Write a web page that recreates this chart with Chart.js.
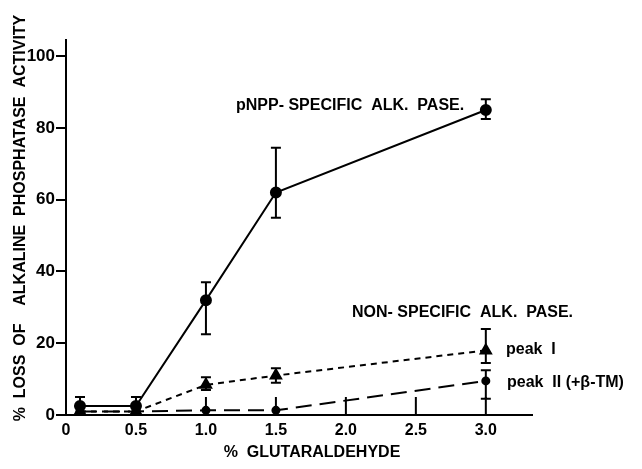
<!DOCTYPE html>
<html lang="en">
<head>
  <meta charset="UTF-8">
  <title>Loss of alkaline phosphatase activity</title>
  <style>
    body { margin: 0; background: #fff; }
    #wrap { width: 642px; height: 469px; position: relative; }
  </style>
  <script src="https://cdn.jsdelivr.net/npm/chart.js"></script>
</head>
<body>
  <div id="wrap"><canvas id="chart"></canvas></div>
  <script>
    // % glutaraldehyde
    const glutaraldehyde = [0.1, 0.5, 1.0, 1.5, 3.0];

    // pNPP-specific alk. pase
    const pnpp = [2.5, 2.5, 32, 62, 85];
    const pnppLow = [2.5, 2.5, 22.5, 55, 82.5];
    const pnppHigh = [5, 5, 37, 74.5, 88];

    // non-specific, peak I
    const peak1 = [1, 1, 8.4, 11, 18];
    const peak1Low = [1, 1, 7, 9, 14.5];
    const peak1High = [1, 1, 10.5, 13, 24];

    // non-specific, peak II (+β-TM)
    const peak2 = [1, 1, 1.3, 1.3, 9.5];
    const peak2Low = [1, 1, 1.3, 1.3, 4.5];
    const peak2High = [1, 1, 1.3, 1.3, 12.5];

    const xTickValues = [0, 0.5, 1.0, 1.5, 2.0, 2.5, 3.0];
    const xTickLabels = ['0', '0.5', '1.0', '1.5', '2.0', '2.5', '3.0'];
    const yTickValues = [0, 20, 40, 60, 80, 100];

    const font = 'Liberation Sans, Arial, sans-serif';

    function pts(ys) {
      return glutaraldehyde.map((x, i) => ({ x: x, y: ys[i] }));
    }

    // error bars, from the arrays above
    const errorBars = {
      id: 'errorBars',
      afterDatasetsDraw(chart) {
        const ctx = chart.ctx;
        const xs = chart.scales.x, ys = chart.scales.y;
        ctx.save();
        ctx.strokeStyle = '#000';
        ctx.lineWidth = 2;
        chart.data.datasets.forEach(ds => {
          if (!ds.errLow) return;
          glutaraldehyde.forEach((x, i) => {
            const px = xs.getPixelForValue(x);
            const lo = ys.getPixelForValue(ds.errLow[i]);
            const hi = ys.getPixelForValue(ds.errHigh[i]);
            if (Math.abs(lo - hi) < 2) return;
            ctx.beginPath();
            ctx.moveTo(px, lo); ctx.lineTo(px, hi);
            ctx.moveTo(px - 5, lo); ctx.lineTo(px + 5, lo);
            ctx.moveTo(px - 5, hi); ctx.lineTo(px + 5, hi);
            ctx.stroke();
          });
        });
        ctx.restore();
      }
    };

    // x ticks point into the plot, plus the lettering
    const extras = {
      id: 'extras',
      afterDraw(chart) {
        const ctx = chart.ctx;
        const xs = chart.scales.x, ys = chart.scales.y;
        const y0 = ys.getPixelForValue(0);
        ctx.save();
        ctx.strokeStyle = '#000';
        ctx.lineWidth = 2;
        xTickValues.slice(1).forEach(v => {
          const px = xs.getPixelForValue(v);
          ctx.beginPath();
          ctx.moveTo(px, y0);
          ctx.lineTo(px, y0 - 18);
          ctx.stroke();
        });

        ctx.fillStyle = '#000';
        ctx.textBaseline = 'middle';
        ctx.font = 'bold 16px ' + font;
        ctx.textAlign = 'left';
        ctx.fillText('pNPP- SPECIFIC  ALK.  PASE.', 236, 106);
        ctx.fillText('NON- SPECIFIC  ALK.  PASE.', 352, 313);
        ctx.fillText('peak  I', 506, 350);
        ctx.fillText('peak  II (+β-TM)', 507, 383);

        ctx.textAlign = 'center';
        ctx.fillText('%  GLUTARALDEHYDE', 312, 453);

        // y axis title
        ctx.translate(21, 218);
        ctx.rotate(-Math.PI / 2);
        ctx.fillText('%  LOSS  OF    ALKALINE  PHOSPHATASE  ACTIVITY', 0, 0);
        ctx.restore();
      }
    };

    new Chart(document.getElementById('chart'), {
      type: 'line',
      data: {
        datasets: [
          {
            label: 'pNPP-specific alk. pase',
            data: pts(pnpp),
            errLow: pnppLow, errHigh: pnppHigh,
            borderColor: '#000', backgroundColor: '#000',
            borderWidth: 2, pointStyle: 'circle', pointRadius: 5
          },
          {
            label: 'peak I',
            data: pts(peak1),
            errLow: peak1Low, errHigh: peak1High,
            borderColor: '#000', backgroundColor: '#000',
            borderWidth: 2, borderDash: [6, 5],
            pointStyle: 'triangle', pointRadius: 6
          },
          {
            label: 'peak II (+β-TM)',
            data: pts(peak2),
            errLow: peak2Low, errHigh: peak2High,
            borderColor: '#000', backgroundColor: '#000',
            borderWidth: 2, borderDash: [16, 8],
            pointStyle: 'circle', pointRadius: 3.5
          }
        ]
      },
      options: {
        responsive: true,
        maintainAspectRatio: false,
        animation: false,
        layout: { padding: { left: 0, top: 40, right: 110, bottom: 0 } },
        plugins: { legend: { display: false }, tooltip: { enabled: false } },
        scales: {
          x: {
            type: 'linear',
            min: 0,
            max: 3.33,
            afterBuildTicks(scale) { scale.ticks = xTickValues.map(v => ({ value: v })); },
            afterFit(scale) { scale.height = 54; },
            grid: { display: false, drawTicks: false, tickLength: 0 },
            border: { display: true, color: '#000', width: 2 },
            ticks: {
              color: '#000',
              font: { family: font, size: 16, weight: 'bold' },
              padding: 6,
              maxRotation: 0,
              callback: (v, i) => xTickLabels[i]
            }
          },
          y: {
            min: 0,
            max: 104.5,
            afterBuildTicks(scale) { scale.ticks = yTickValues.map(v => ({ value: v })); },
            afterFit(scale) { scale.width = 66; },
            grid: { display: true, drawOnChartArea: false, drawTicks: true, tickLength: 10, color: '#000', lineWidth: 2 },
            border: { display: true, color: '#000', width: 2 },
            ticks: {
              color: '#000',
              font: { family: font, size: 17, weight: 'bold' },
              padding: 1
            }
          }
        }
      },
      plugins: [errorBars, extras]
    });
  </script>
</body>
</html>
